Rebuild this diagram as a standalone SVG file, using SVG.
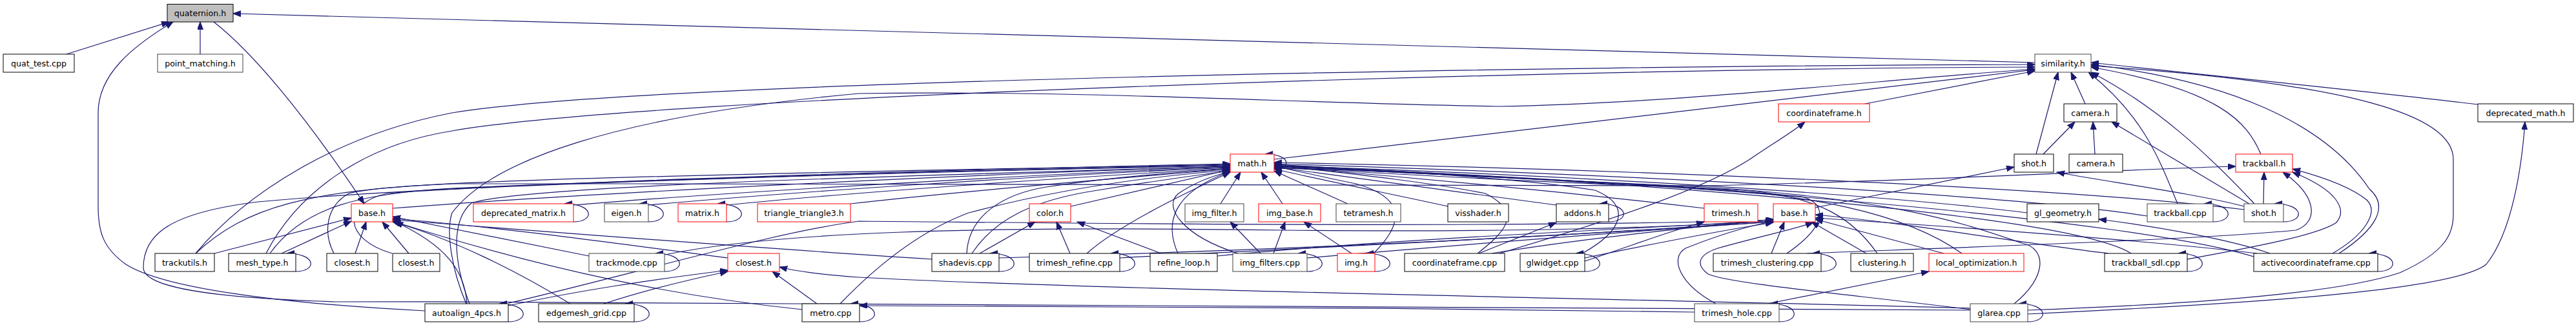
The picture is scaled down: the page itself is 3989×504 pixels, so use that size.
<svg xmlns="http://www.w3.org/2000/svg" width="3989" height="504" viewBox="0 0 3989 504">
<style>
.n rect{fill:#fff;stroke:#000;stroke-width:1}
.n.r rect{stroke:#ff0000}
.n.g rect{stroke:#404040}
.n.root rect{fill:#bfbfbf;stroke:#000}
.n text{font-family:"DejaVu Sans",sans-serif;font-size:12.6px;fill:#000;text-anchor:middle}
#edges path{fill:none;stroke:#191970;stroke-width:1.2;marker-end:url(#ah)}
</style>
<defs>
<marker id="ah" markerUnits="userSpaceOnUse" markerWidth="13" markerHeight="10" refX="12" refY="4.5" orient="auto">
<path d="M0,0 L12,4.5 L0,9 z" fill="#191970" stroke="#191970" stroke-width="1"/>
</marker>
</defs>
<rect width="3989" height="504" fill="#fff"/>
<g id="edges">
<path d="M103,84 L262,34"/>
<path d="M310,84 L310,34"/>
<path d="M3151,97 L361,21"/>
<path d="M658,482 C420,470 250,445 195,410 C160,385 152,360 152,320 L152,175 C152,115 205,72 268,34"/>
<path d="M331,34 C390,80 470,175 564,316"/>
<path d="M303,393 C380,300 520,210 700,175 C1000,125 2400,102 3151,100"/>
<path d="M412,393 C460,300 560,225 700,203 C1000,150 2400,106 3151,104"/>
<path d="M722,471 C700,420 690,360 700,330 C760,250 950,180 1330,145 C1700,140 2000,160 2320,165 C2600,160 2900,125 3151,107"/>
<path d="M1973,247 L3151,108"/>
<path d="M2888,161 L3151,110"/>
<path d="M3153,239 L3187,112"/>
<path d="M3229,161 L3207,112"/>
<path d="M3372,316 C3345,250 3320,180 3234,112"/>
<path d="M3491,316 C3420,240 3340,165 3238,112"/>
<path d="M3501,239 C3480,190 3440,140 3238,104"/>
<path d="M3622,393 C3680,355 3700,320 3669,293 C3600,190 3450,125 3238,100"/>
<path d="M3837,162 C3700,145 3400,115 3238,97"/>
<path d="M3140,481 C3300,475 3600,462 3716,423 C3790,390 3799,360 3799,333 L3799,247 C3799,180 3650,130 3238,102"/>
<path d="M3140,487 C3500,470 3800,450 3850,410 C3890,360 3905,260 3910,189"/>
<path d="M3244,239 L3241,189"/>
<path d="M3164,239 L3213,189"/>
<path d="M3483,316 L3270,189"/>
<path d="M3505,316 L3506,267"/>
<path d="M2798,393 C3000,385 3400,372 3555,357 C3590,345 3590,305 3535,267"/>
<path d="M3387,402 C3480,385 3590,365 3618,345 C3635,325 3620,295 3550,267"/>
<path d="M3612,393 C3660,365 3685,330 3665,310 C3640,290 3600,275 3550,262"/>
<path d="M303,393 C380,320 480,295 700,285 C1300,285 1850,285 2640,288 C3000,280 3300,262 3462,258"/>
<path d="M2811,322 L3119,259"/>
<path d="M3475,320 C3400,300 3250,280 3185,267"/>
<path d="M3515,393 C3450,370 3330,350 3250,340"/>
<path d="M3265,393 C3150,380 2950,345 2811,333"/>
<path d="M3495,393 C3300,370 3000,350 2811,338"/>
<path d="M3010,393 L2811,340"/>
<path d="M2743,393 L2763,344"/>
<path d="M2890,393 L2805,344"/>
<path d="M2657,471 C2600,440 2585,400 2610,385 C2660,365 2700,352 2746,343"/>
<path d="M3052,480 C2850,455 2680,440 2645,425 C2625,410 2630,395 2660,385 C2720,368 2780,355 2808,345"/>
<path d="M1030,395 C1200,360 1500,350 1990,357 C2300,360 2600,355 2746,340"/>
<path d="M1547,400 C1900,390 2400,370 2746,342"/>
<path d="M1734,400 C2000,385 2400,368 2746,344"/>
<path d="M1885,397 C2100,375 2500,355 2746,343"/>
<path d="M2024,400 C2200,385 2500,360 2746,344"/>
<path d="M2310,393 C2450,370 2600,355 2746,340"/>
<path d="M2454,400 C2550,380 2650,360 2746,345"/>
<path d="M788,470 C1000,420 1200,360 1330,343 C1600,345 2300,355 2746,341"/>
<path d="M2737,471 L2987,421"/>
<path d="M2454,405 C2530,380 2580,360 2639,344"/>
<path d="M418,393 C470,320 560,300 700,292 C1100,275 1600,262 1905,256"/>
<path d="M517,393 C500,360 505,320 540,300 C600,285 800,275 1905,255"/>
<path d="M607,393 C530,370 530,315 600,300 C700,290 1300,268 1905,257"/>
<path d="M608,323 C900,300 1500,270 1905,258"/>
<path d="M888,318 C1100,300 1600,270 1905,259"/>
<path d="M1004,318 C1200,300 1600,272 1905,260"/>
<path d="M1125,318 C1300,300 1650,275 1905,261"/>
<path d="M1317,316 C1500,295 1750,275 1905,262"/>
<path d="M1301,471 C1350,420 1420,360 1500,330 C1650,290 1800,272 1905,264"/>
<path d="M727,471 C700,400 700,340 730,315 C800,290 1300,275 1905,258"/>
<path d="M1658,320 L1905,263"/>
<path d="M1497,393 C1500,330 1560,300 1620,290 C1700,278 1800,268 1905,262"/>
<path d="M1505,393 C1540,340 1600,310 1700,295 C1780,282 1850,272 1905,265"/>
<path d="M1683,393 C1720,360 1790,320 1905,267"/>
<path d="M1824,393 C1805,350 1810,300 1905,266"/>
<path d="M1917,393 C1830,365 1800,320 1825,300 C1850,283 1880,272 1905,266"/>
<path d="M3051,481 C2500,472 1500,466 520,468 C320,462 222,445 222,415 C222,365 260,330 400,313 C700,285 1400,265 1905,254"/>
<path d="M1890,316 L1921,267"/>
<path d="M1986,316 L1953,267"/>
<path d="M2087,316 L1973,265"/>
<path d="M2242,320 C2150,300 2050,280 1973,262"/>
<path d="M2410,318 C2200,290 2050,270 1973,259"/>
<path d="M2127,393 C2180,340 2170,305 2100,285 C2050,275 2010,265 1973,258"/>
<path d="M2288,393 C2330,360 2360,330 2300,300 C2200,280 2050,265 1973,256"/>
<path d="M2450,393 C2510,360 2530,320 2470,295 C2350,275 2100,262 1973,255"/>
<path d="M2639,323 C2400,295 2150,272 1973,258"/>
<path d="M2767,393 C2830,350 2830,315 2790,305 C2600,285 2200,270 1973,258"/>
<path d="M2907,393 C2870,340 2820,305 2700,295 C2400,280 2100,265 1973,257"/>
<path d="M3038,393 C2950,330 2800,300 2600,290 C2300,280 2100,265 1973,260"/>
<path d="M3119,471 C3170,430 3170,385 3131,377 C3050,350 2950,310 2640,290 C2300,275 2100,262 1973,261"/>
<path d="M3325,335 C3100,300 2500,270 1973,254"/>
<path d="M3475,325 C3200,290 2500,262 1973,252"/>
<path d="M3300,393 C3200,330 2500,280 1973,256"/>
<path d="M3490,398 C3300,340 2600,280 1973,258"/>
<path d="M3139,330 C2900,300 2400,270 1973,257"/>
<path d="M1952,393 L1905,344"/>
<path d="M1972,393 L1990,344"/>
<path d="M2093,393 L2019,344"/>
<path d="M2290,393 L2410,345"/>
<path d="M2322,393 C2500,340 2650,290 2720,240 C2750,220 2775,205 2795,189"/>
<path d="M1517,393 L1603,344"/>
<path d="M1657,393 L1636,344"/>
<path d="M1798,393 L1668,344"/>
<path d="M787,474 C900,450 1000,435 1127,419"/>
<path d="M935,471 C1000,450 1060,435 1127,421"/>
<path d="M1265,471 L1196,421"/>
<path d="M3051,478 C2600,465 1700,450 1330,430 C1260,425 1230,420 1207,414"/>
<path d="M2624,484 C2200,478 1600,472 1331,474"/>
<path d="M332,393 L544,338"/>
<path d="M436,393 L544,343"/>
<path d="M550,393 L567,344"/>
<path d="M633,393 L592,344"/>
<path d="M912,397 C800,375 700,355 608,336"/>
<path d="M1127,400 C900,370 750,350 608,339"/>
<path d="M1443,402 C1100,380 800,355 608,341"/>
<path d="M883,471 C800,420 700,370 608,344"/>
<path d="M723,471 C720,420 690,380 612,344"/>
<path d="M1242,480 C1050,460 850,420 608,343"/>
<path d="M458,421 C491,421 491,393 444,393"/>
<path d="M888,344 C921,344 921,316 874,316"/>
<path d="M1004,344 C1037,344 1037,316 990,316"/>
<path d="M1125,344 C1158,344 1158,316 1111,316"/>
<path d="M2491,344 C2524,344 2524,316 2477,316"/>
<path d="M3427,344 C3460,344 3460,316 3413,316"/>
<path d="M3536,344 C3569,344 3569,316 3522,316"/>
<path d="M1029,421 C1062,421 1062,393 1015,393"/>
<path d="M1547,421 C1580,421 1580,393 1533,393"/>
<path d="M1734,421 C1767,421 1767,393 1720,393"/>
<path d="M2024,421 C2057,421 2057,393 2010,393"/>
<path d="M2129,421 C2162,421 2162,393 2115,393"/>
<path d="M2454,421 C2487,421 2487,393 2440,393"/>
<path d="M2820,421 C2853,421 2853,393 2806,393"/>
<path d="M3387,421 C3420,421 3420,393 3373,393"/>
<path d="M3682,421 C3715,421 3715,393 3668,393"/>
<path d="M787,499 C820,499 820,471 773,471"/>
<path d="M982,499 C1015,499 1015,471 968,471"/>
<path d="M1331,499 C1364,499 1364,471 1317,471"/>
<path d="M2755,499 C2788,499 2788,471 2741,471"/>
<path d="M3140,499 C3173,499 3173,471 3126,471"/>
<path d="M1973,262 C2000,262 2000,239 1959,239"/>
</g>
<g id="n_quaternion" class="n root"><rect x="259" y="6.5" width="102" height="27.5"/><text x="310" y="25">quaternion.h</text></g>
<g id="n_quat_test" class="n"><rect x="5" y="84" width="110" height="28"/><text x="60" y="102.5">quat_test.cpp</text></g>
<g id="n_point_matching" class="n g"><rect x="244" y="84" width="132" height="28"/><text x="310" y="102.5">point_matching.h</text></g>
<g id="n_similarity" class="n g"><rect x="3151" y="84" width="87" height="28"/><text x="3194.5" y="102.5">similarity.h</text></g>
<g id="n_coordinateframe_h" class="n r"><rect x="2754" y="161" width="141" height="28"/><text x="2824.5" y="179.5">coordinateframe.h</text></g>
<g id="n_camera_1" class="n"><rect x="3196" y="161" width="82" height="28"/><text x="3237" y="179.5">camera.h</text></g>
<g id="n_deprecated_math" class="n"><rect x="3837" y="161" width="148" height="28"/><text x="3911" y="179.5">deprecated_math.h</text></g>
<g id="n_math" class="n r"><rect x="1905" y="239" width="68" height="28"/><text x="1939" y="257.5">math.h</text></g>
<g id="n_shot_1" class="n"><rect x="3119" y="239" width="61" height="28"/><text x="3149.5" y="257.5">shot.h</text></g>
<g id="n_camera_2" class="n"><rect x="3204" y="239" width="83" height="28"/><text x="3245.5" y="257.5">camera.h</text></g>
<g id="n_trackball_h" class="n r"><rect x="3462" y="239" width="88" height="28"/><text x="3506" y="257.5">trackball.h</text></g>
<g id="n_base_1" class="n r"><rect x="544" y="316" width="64" height="28"/><text x="576" y="334.5">base.h</text></g>
<g id="n_deprecated_matrix" class="n r"><rect x="733" y="316" width="155" height="28"/><text x="810.5" y="334.5">deprecated_matrix.h</text></g>
<g id="n_eigen" class="n g"><rect x="936" y="316" width="68" height="28"/><text x="970" y="334.5">eigen.h</text></g>
<g id="n_matrix" class="n r"><rect x="1050" y="316" width="75" height="28"/><text x="1087.5" y="334.5">matrix.h</text></g>
<g id="n_triangle_triangle3" class="n r"><rect x="1173" y="316" width="144" height="28"/><text x="1245" y="334.5">triangle_triangle3.h</text></g>
<g id="n_color" class="n r"><rect x="1594" y="316" width="64" height="28"/><text x="1626" y="334.5">color.h</text></g>
<g id="n_img_filter" class="n g"><rect x="1835" y="316" width="91" height="28"/><text x="1880.5" y="334.5">img_filter.h</text></g>
<g id="n_img_base" class="n r"><rect x="1949" y="316" width="96" height="28"/><text x="1997" y="334.5">img_base.h</text></g>
<g id="n_tetramesh" class="n g"><rect x="2069" y="316" width="100" height="28"/><text x="2119" y="334.5">tetramesh.h</text></g>
<g id="n_visshader" class="n"><rect x="2242" y="316" width="94" height="28"/><text x="2289" y="334.5">visshader.h</text></g>
<g id="n_addons" class="n"><rect x="2410" y="316" width="81" height="28"/><text x="2450.5" y="334.5">addons.h</text></g>
<g id="n_trimesh" class="n r"><rect x="2639" y="316" width="83" height="28"/><text x="2680.5" y="334.5">trimesh.h</text></g>
<g id="n_base_2" class="n r"><rect x="2746" y="316" width="65" height="28"/><text x="2778.5" y="334.5">base.h</text></g>
<g id="n_gl_geometry" class="n"><rect x="3139" y="316" width="111" height="28"/><text x="3194.5" y="334.5">gl_geometry.h</text></g>
<g id="n_trackball_cpp" class="n g"><rect x="3325" y="316" width="102" height="28"/><text x="3376" y="334.5">trackball.cpp</text></g>
<g id="n_shot_2" class="n g"><rect x="3475" y="316" width="61" height="28"/><text x="3505.5" y="334.5">shot.h</text></g>
<g id="n_trackutils" class="n"><rect x="240" y="393" width="92" height="28"/><text x="286" y="411.5">trackutils.h</text></g>
<g id="n_mesh_type" class="n"><rect x="354" y="393" width="104" height="28"/><text x="406" y="411.5">mesh_type.h</text></g>
<g id="n_closest_1" class="n"><rect x="506" y="393" width="79" height="28"/><text x="545.5" y="411.5">closest.h</text></g>
<g id="n_closest_2" class="n"><rect x="608" y="393" width="73" height="28"/><text x="644.5" y="411.5">closest.h</text></g>
<g id="n_trackmode" class="n g"><rect x="912" y="393" width="117" height="28"/><text x="970.5" y="411.5">trackmode.cpp</text></g>
<g id="n_closest_3" class="n r"><rect x="1127" y="393" width="80" height="28"/><text x="1167" y="411.5">closest.h</text></g>
<g id="n_shadevis" class="n"><rect x="1443" y="393" width="104" height="28"/><text x="1495" y="411.5">shadevis.cpp</text></g>
<g id="n_trimesh_refine" class="n"><rect x="1594" y="393" width="140" height="28"/><text x="1664" y="411.5">trimesh_refine.cpp</text></g>
<g id="n_refine_loop" class="n"><rect x="1781" y="393" width="104" height="28"/><text x="1833" y="411.5">refine_loop.h</text></g>
<g id="n_img_filters" class="n g"><rect x="1909" y="393" width="115" height="28"/><text x="1966.5" y="411.5">img_filters.cpp</text></g>
<g id="n_img" class="n r"><rect x="2071" y="393" width="58" height="28"/><text x="2100" y="411.5">img.h</text></g>
<g id="n_coordinateframe_cpp" class="n"><rect x="2175" y="393" width="155" height="28"/><text x="2252.5" y="411.5">coordinateframe.cpp</text></g>
<g id="n_glwidget" class="n"><rect x="2354" y="393" width="100" height="28"/><text x="2404" y="411.5">glwidget.cpp</text></g>
<g id="n_trimesh_clustering" class="n"><rect x="2653" y="393" width="167" height="28"/><text x="2736.5" y="411.5">trimesh_clustering.cpp</text></g>
<g id="n_clustering" class="n"><rect x="2866" y="393" width="97" height="28"/><text x="2914.5" y="411.5">clustering.h</text></g>
<g id="n_local_optimization" class="n r"><rect x="2987" y="393" width="147" height="28"/><text x="3060.5" y="411.5">local_optimization.h</text></g>
<g id="n_trackball_sdl" class="n"><rect x="3259" y="393" width="128" height="28"/><text x="3323" y="411.5">trackball_sdl.cpp</text></g>
<g id="n_activecoordinateframe" class="n"><rect x="3490" y="393" width="192" height="28"/><text x="3586" y="411.5">activecoordinateframe.cpp</text></g>
<g id="n_autoalign_4pcs" class="n"><rect x="658" y="471" width="129" height="28"/><text x="722.5" y="489.5">autoalign_4pcs.h</text></g>
<g id="n_edgemesh_grid" class="n"><rect x="834" y="471" width="148" height="28"/><text x="908" y="489.5">edgemesh_grid.cpp</text></g>
<g id="n_metro" class="n"><rect x="1242" y="471" width="89" height="28"/><text x="1286.5" y="489.5">metro.cpp</text></g>
<g id="n_trimesh_hole" class="n g"><rect x="2624" y="471" width="131" height="28"/><text x="2689.5" y="489.5">trimesh_hole.cpp</text></g>
<g id="n_glarea" class="n g"><rect x="3051" y="471" width="89" height="28"/><text x="3095.5" y="489.5">glarea.cpp</text></g>
</svg>
